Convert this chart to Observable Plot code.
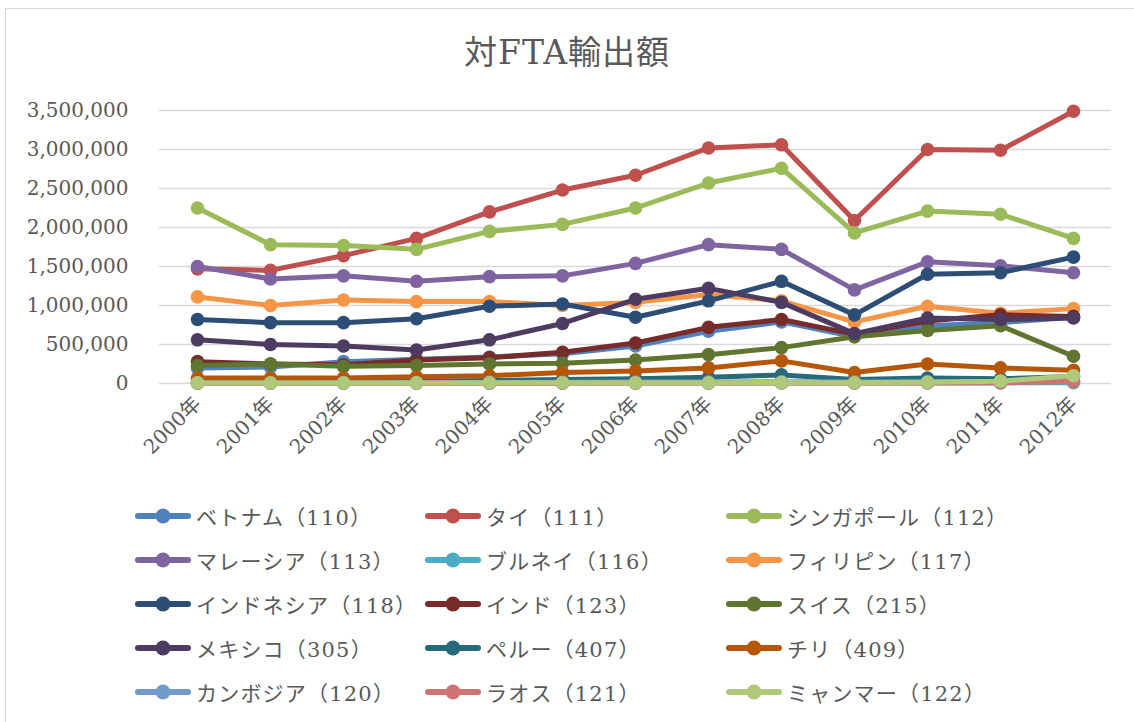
<!DOCTYPE html>
<html><head><meta charset="utf-8">
<script src="https://cdn.jsdelivr.net/npm/d3@7"></script>
<script src="https://cdn.jsdelivr.net/npm/@observablehq/plot@0.6"></script>
<style>
body{margin:0;background:#fff;}
#wrap{position:relative;width:1134px;height:722px;overflow:hidden;font-family:"DejaVu Serif","Noto Sans CJK JP",serif;color:#595959;}
#frame{position:absolute;left:5px;top:8px;width:1140px;height:730px;border:1.5px solid #d9d9d9;box-sizing:border-box;}
#title{position:absolute;left:0;width:1134px;top:26px;text-align:center;font-size:33px;letter-spacing:1px;}
#chart{position:absolute;left:0;top:90px;}
#legend{position:absolute;left:0;top:0;}
.li{position:absolute;display:flex;align-items:center;font-size:21px;white-space:nowrap;height:30px;}
.li svg{margin-right:3px;}
.li span{letter-spacing:1.2px;}
</style></head>
<body><div id="wrap"><div id="frame"></div><div id="title">対FTA輸出額</div><div id="chart"></div><div id="legend"></div></div>
<script>
const years = ["2000年","2001年","2002年","2003年","2004年","2005年","2006年","2007年","2008年","2009年","2010年","2011年","2012年"];
const yTicks = [0,500000,1000000,1500000,2000000,2500000,3000000,3500000];

const names = ["ベトナム（110）","タイ（111）","シンガポール（112）","マレーシア（113）","ブルネイ（116）","フィリピン（117）","インドネシア（118）","インド（123）","スイス（215）","メキシコ（305）","ペルー（407）","チリ（409）","カンボジア（120）","ラオス（121）","ミャンマー（122）"];
const colors = ["#4F81BD","#C0504D","#9BBB59","#8064A2","#4BACC6","#F79646","#2C4D75","#772C2A","#5F7530","#4D3B62","#276A7C","#B65708","#729ACA","#CD7371","#AFC97A"];

const vietnam     = [200000,210000,280000,310000,340000,380000,480000,670000,790000,600000,740000,780000,850000];
const thailand    = [1470000,1450000,1640000,1860000,2200000,2480000,2670000,3020000,3060000,2090000,3000000,2990000,3490000];
const singapore   = [2250000,1780000,1770000,1720000,1950000,2040000,2250000,2570000,2760000,1930000,2210000,2170000,1860000];
const malaysia    = [1500000,1340000,1380000,1310000,1370000,1380000,1540000,1780000,1720000,1200000,1560000,1510000,1420000];
const brunei      = [3000,3000,4000,4000,5000,5000,6000,7000,8000,6000,7000,8000,9000];
const philippines = [1110000,1000000,1070000,1050000,1050000,1000000,1040000,1140000,1060000,790000,990000,900000,960000];
const indonesia   = [820000,780000,780000,830000,990000,1020000,850000,1060000,1310000,880000,1400000,1420000,1620000];
const india       = [280000,250000,240000,300000,330000,400000,520000,720000,820000,630000,800000,880000,860000];
const switzerland = [230000,250000,220000,230000,250000,260000,300000,370000,460000,600000,680000,740000,350000];
const mexico      = [560000,500000,480000,430000,560000,770000,1080000,1220000,1040000,640000,840000,820000,840000];
const peru        = [20000,20000,25000,30000,40000,50000,60000,80000,110000,50000,70000,60000,90000];
const chile       = [70000,70000,70000,85000,100000,140000,160000,200000,290000,140000,250000,200000,170000];
const cambodia    = [10000,10000,12000,12000,14000,15000,18000,20000,22000,20000,22000,25000,30000];
const laos        = [3000,3000,3000,3000,4000,4000,5000,5000,6000,5000,6000,10000,25000];
const myanmar     = [8000,8000,8000,8000,9000,9000,10000,10000,12000,10000,15000,30000,100000];

const seriesValues = [vietnam,thailand,singapore,malaysia,brunei,philippines,indonesia,india,switzerland,mexico,peru,chile,cambodia,laos,myanmar];

const marks = [Plot.ruleY(yTicks,{stroke:"#d9d9d9",strokeWidth:1.5})];
seriesValues.forEach((vals,i)=>{
  const data = years.map((y,j)=>({year:y,value:vals[j]}));
  marks.push(Plot.line(data,{x:"year",y:"value",stroke:colors[i],strokeWidth:5,strokeLinejoin:"round",strokeLinecap:"round"}));
  marks.push(Plot.dot(data,{x:"year",y:"value",fill:colors[i],r:6.8,stroke:"none"}));
});

const chart = Plot.plot({
  width:1134,height:390,
  marginLeft:159,marginRight:23,marginTop:20,marginBottom:97,
  style:{fontSize:"20px",fontFamily:"'DejaVu Serif','Noto Sans CJK JP',serif",color:"#595959",background:"transparent",overflow:"visible"},
  x:{type:"point",domain:years,padding:0.5,label:null,tickSize:0,tickRotate:-45,tickPadding:17},
  y:{domain:[0,3500000],ticks:yTicks,label:null,tickSize:0,tickPadding:31,tickFormat:d3.format(",")},
  marks
});
document.getElementById("chart").appendChild(chart);

const legend = document.getElementById("legend");
const colX = [133,423,724];
const rowY = [516,560,604,648,692];
names.forEach((n,i)=>{
  const c = i%3, r = Math.floor(i/3);
  const d = document.createElement("div");
  d.className="li";
  d.style.left = colX[c]+"px";
  d.style.top = (rowY[r]-15)+"px";
  d.innerHTML = `<svg width="60" height="20"><line x1="5" y1="10" x2="55" y2="10" stroke="${colors[i]}" stroke-width="6" stroke-linecap="round"/><circle cx="30" cy="10" r="7.5" fill="${colors[i]}"/></svg><span>${n}</span>`;
  legend.appendChild(d);
});
</script></body></html>
